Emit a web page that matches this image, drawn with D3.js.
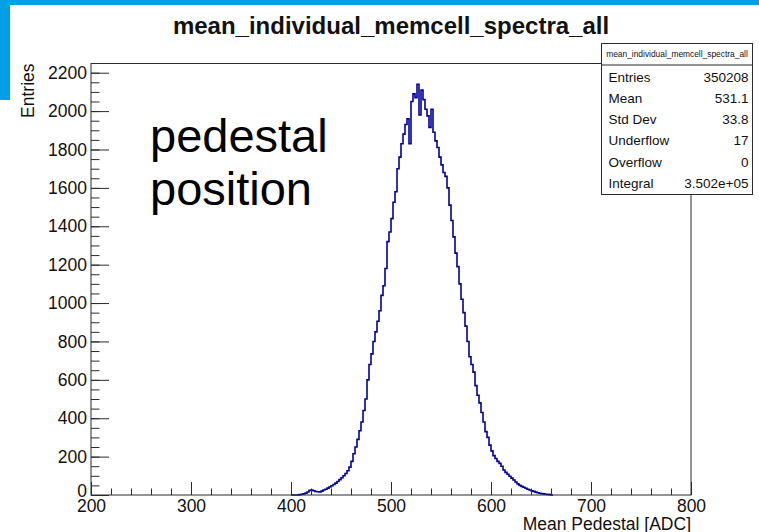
<!DOCTYPE html>
<html>
<head>
<meta charset="utf-8">
<script src="https://cdn.jsdelivr.net/npm/d3@7"></script>
<style>
  html, body { margin: 0; padding: 0; background: #fff; }
  svg { display: block; }
</style>
</head>
<body>
<svg id="chart"></svg>
<script>
/* ════════════════════════════════════════════════════════
   ROOT-style 1D histogram: mean pedestal per memory cell
   ════════════════════════════════════════════════════════ */

const TITLE   = 'mean_individual_memcell_spectra_all';
const X_TITLE = 'Mean Pedestal [ADC]';
const Y_TITLE = 'Entries';
const NOTE    = ['pedestal', 'position'];

/* ── Histogram: bin width and first low edge (ADC) ── */
const BIN_START = 400;
const BIN_WIDTH = 2;

/* counts per 2-ADC bin, 400 … 660 */
const counts = [
     0,    0,    0,    0,    2,    4,    6,   10,   16,   24,   // 400–418
    26,   22,   18,   17,   16,   20,   26,   30,   36,   42,   // 420–438
    48,   55,   62,   70,   80,   90,  100,  112,  126,  145,   // 440–458
   175,  215,  250,  290,  335,  380,  440,  500,  600,  680,   // 460–478
   735,  800,  850,  905,  960, 1040, 1090, 1180, 1320, 1370,   // 480–498
  1440, 1525, 1580, 1700, 1760, 1830, 1880, 1930, 1960, 1830,   // 500–518
  2050, 2090, 2070, 2140, 1980, 2110, 2060, 2010, 1975, 1915,   // 520–538
  2010, 1890, 1845, 1810, 1760, 1720, 1680, 1660, 1600, 1510,   // 540–558
  1430, 1345, 1260, 1190, 1100, 1020,  950,  880,  800,  720,   // 560–578
   680,  640,  570,  520,  480,  430,  380,  330,  300,  260,   // 580–598
   230,  205,  190,  175,  165,  150,  130,  118,  108,   98,   // 600–618
    88,   78,   68,   58,   50,   45,   40,   35,   30,   26,   // 620–638
    22,   19,   15,   12,    9,    7,    6,    4,    3,    2,   // 640–658
     0                                                         // 660
];

/* ── Axis ranges and ticks ── */
const X_RANGE   = [200, 800];
const Y_RANGE   = [0, 2248];
const X_MAJOR   = [200, 300, 400, 500, 600, 700, 800];
const Y_MAJOR   = [0, 200, 400, 600, 800, 1000, 1200, 1400, 1600, 1800, 2000, 2200];
const X_MINOR_STEP = 20;
const Y_MINOR_STEP = 50;

/* ── Stats box ── */
const statNames  = ['Entries', 'Mean', 'Std Dev', 'Underflow', 'Overflow', 'Integral'];
const statValues = ['350208', '531.1', '33.8', '17', '0', '3.502e+05'];

/* ─────────────────────────────────────────────────────── */

const W = 759, H = 532;
const FONT = '"Liberation Sans", Arial, Helvetica, sans-serif';
const AXIS_COLOR = '#2b2b2b';
const HIST_COLOR = '#000099';
const BAND_COLOR = '#00a1e4';

const margin = { top: 63.5, right: 68, bottom: 37, left: 91 };
const iW = W - margin.left - margin.right;
const iH = H - margin.top - margin.bottom;

const svg = d3.select('#chart')
  .attr('width', W)
  .attr('height', H)
  .attr('viewBox', `0 0 ${W} ${H}`);

/* slide decoration: blue strips top and left */
svg.append('rect').attr('x', 0).attr('y', 0).attr('width', W).attr('height', 5).attr('fill', BAND_COLOR);
svg.append('rect').attr('x', 0).attr('y', 0).attr('width', 10).attr('height', 100).attr('fill', BAND_COLOR);

const g = svg.append('g')
  .attr('transform', `translate(${margin.left},${margin.top})`);

const x = d3.scaleLinear().domain(X_RANGE).range([0, iW]);
const y = d3.scaleLinear().domain(Y_RANGE).range([iH, 0]);

/* ── Histogram line (step) ── */
const bins = counts.map((c, i) => ({ x0: BIN_START + i * BIN_WIDTH, c }));
bins.push({ x0: BIN_START + counts.length * BIN_WIDTH, c: counts[counts.length - 1] });

g.append('path')
  .datum(bins)
  .attr('fill', 'none')
  .attr('stroke', HIST_COLOR)
  .attr('stroke-width', 1.6)
  .attr('d', d3.line()
    .x(d => x(d.x0))
    .y(d => y(d.c))
    .curve(d3.curveStepAfter));

/* ── Frame ── */
g.append('rect')
  .attr('x', 0).attr('y', 0)
  .attr('width', iW).attr('height', iH)
  .attr('fill', 'none')
  .attr('stroke', AXIS_COLOR)
  .attr('stroke-width', 1);

/* ── Axes: ticks point inward, ROOT style ── */
function styleAxis(ax) {
  ax.select('.domain').remove();
  ax.selectAll('.tick line').attr('stroke', AXIS_COLOR).attr('stroke-width', 1);
  ax.selectAll('.tick text')
    .attr('fill', '#111')
    .attr('font-size', 17.5)
    .attr('font-family', FONT);
}

const xMinor = d3.range(X_RANGE[0], X_RANGE[1] + 1, X_MINOR_STEP);
const yMinor = d3.range(Y_RANGE[0], Y_RANGE[1], Y_MINOR_STEP);

g.append('g')
  .attr('transform', `translate(0,${iH})`)
  .call(d3.axisBottom(x).tickValues(xMinor).tickSize(-6.5).tickFormat(''))
  .call(styleAxis);

g.append('g')
  .attr('transform', `translate(0,${iH})`)
  .call(d3.axisBottom(x).tickValues(X_MAJOR).tickSize(-13).tickPadding(5).tickFormat(d3.format('d')))
  .call(styleAxis);

g.append('g')
  .call(d3.axisLeft(y).tickValues(yMinor).tickSize(-8.5).tickFormat(''))
  .call(styleAxis);

g.append('g')
  .call(d3.axisLeft(y).tickValues(Y_MAJOR).tickSize(-18).tickPadding(4).tickFormat(d3.format('d')))
  .call(styleAxis)
  .call(ax => ax.selectAll('.tick')
    .filter(d => d === 0)
    .select('text')
    .attr('dy', '0.1em'));

/* ── Axis titles ── */
svg.append('text')
  .attr('x', margin.left + iW)
  .attr('y', 529.5)
  .attr('text-anchor', 'end')
  .attr('font-family', FONT)
  .attr('font-size', 17.5)
  .attr('fill', '#111')
  .text(X_TITLE);

svg.append('text')
  .attr('transform', `translate(33.5,${margin.top}) rotate(-90)`)
  .attr('text-anchor', 'end')
  .attr('font-family', FONT)
  .attr('font-size', 17.5)
  .attr('fill', '#111')
  .text(Y_TITLE);

/* ── Title ── */
svg.append('text')
  .attr('x', margin.left + iW / 2)
  .attr('y', 33.5)
  .attr('text-anchor', 'middle')
  .attr('font-family', FONT)
  .attr('font-size', 24)
  .attr('font-weight', 'bold')
  .attr('fill', '#111')
  .text(TITLE);

/* ── Annotation ── */
NOTE.forEach((line, i) => {
  svg.append('text')
    .attr('x', 150)
    .attr('y', 152 + i * 53)
    .attr('font-family', FONT)
    .attr('font-size', 47)
    .attr('fill', '#000')
    .text(line);
});

/* ── Stats box ── */
const box = { x: 601.5, y: 43.5, w: 151, h: 151, head: 21.5 };
const sb = svg.append('g');

sb.append('rect')
  .attr('x', box.x).attr('y', box.y)
  .attr('width', box.w).attr('height', box.h)
  .attr('fill', '#fff')
  .attr('stroke', AXIS_COLOR)
  .attr('stroke-width', 1);

sb.append('line')
  .attr('x1', box.x).attr('x2', box.x + box.w)
  .attr('y1', box.y + box.head).attr('y2', box.y + box.head)
  .attr('stroke', AXIS_COLOR);

sb.append('text')
  .attr('x', box.x + box.w / 2)
  .attr('y', box.y + 13)
  .attr('text-anchor', 'middle')
  .attr('font-family', FONT)
  .attr('font-size', 8.4)
  .attr('fill', '#111')
  .text(TITLE);

statNames.forEach((name, i) => {
  const yy = 81.7 + i * 21.2;
  sb.append('text')
    .attr('x', box.x + 7)
    .attr('y', yy)
    .attr('font-family', FONT)
    .attr('font-size', 13.5)
    .attr('fill', '#111')
    .text(name);
  sb.append('text')
    .attr('x', box.x + box.w - 4)
    .attr('y', yy)
    .attr('text-anchor', 'end')
    .attr('font-family', FONT)
    .attr('font-size', 13.5)
    .attr('fill', '#111')
    .text(statValues[i]);
});
</script>
</body>
</html>
